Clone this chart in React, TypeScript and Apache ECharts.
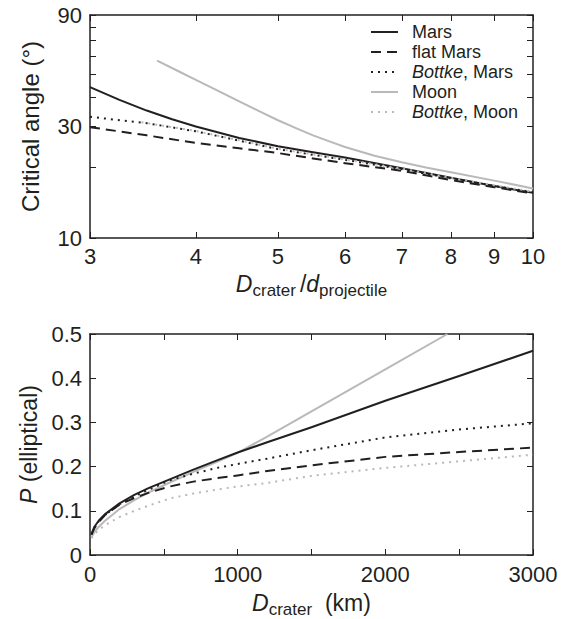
import React, { useEffect, useRef } from "react";
import * as echarts from "echarts";

// ---------- Top panel: critical angle vs D_crater/d_projectile ----------
const marsRatio = [3, 3.25, 3.5, 3.75, 4, 4.5, 5, 5.5, 6, 7, 8, 9, 10];
const marsAngle = [44.2, 39.0, 35.1, 32.2, 30.0, 26.8, 24.7, 23.3, 22.1, 19.9, 18.1, 16.7, 15.6];

const flatMarsRatio = [3, 3.5, 4, 4.5, 5, 5.5, 6, 7, 7.5, 8, 9, 10];
const flatMarsAngle = [29.8, 27.5, 25.5, 24.2, 23.1, 21.9, 20.9, 19.4, 18.5, 17.7, 16.5, 15.5];

const bottkeMarsRatio = [3, 3.5, 4, 4.5, 5, 5.5, 6, 7, 8, 9, 10];
const bottkeMarsAngle = [33.0, 31.0, 28.6, 26.1, 24.0, 22.7, 21.6, 19.7, 18.0, 16.7, 15.7];

const moonRatio = [3.6, 3.8, 4, 4.25, 4.5, 4.75, 5, 5.25, 5.5, 5.75, 6, 6.5, 7, 7.5, 8, 9, 10];
const moonAngle = [57.4, 52.1, 47.5, 42.6, 38.4, 34.9, 31.9, 29.5, 27.5, 25.9, 24.5, 22.5, 21.1, 20.0, 19.1, 17.6, 16.3];

const bottkeMoonRatio = [3.45, 4, 4.5, 5, 5.5, 6, 7, 8, 9, 10];
const bottkeMoonAngle = [31.3, 28.7, 26.2, 24.1, 22.8, 21.7, 19.8, 18.1, 16.8, 15.8];

const topXTicks = [3, 4, 5, 6, 7, 8, 9, 10];
const topYLabels = [10, 30, 90];
const topYTicks = [10, 20, 30, 40, 50, 60, 70, 80, 90];

// ---------- Bottom panel: P(elliptical) vs D_crater ----------
const marsKm = [10, 30, 60, 100, 200, 300, 400, 540, 700, 860, 1000, 1200, 1500, 2000, 2500, 3000];
const marsP = [0.048, 0.064, 0.078, 0.092, 0.117, 0.136, 0.152, 0.171, 0.193, 0.214, 0.232, 0.255, 0.289, 0.349, 0.405, 0.462];

const flatMarsKm = [10, 30, 60, 100, 200, 300, 400, 540, 700, 860, 1000, 1200, 1500, 2000, 2500, 3000];
const flatMarsP = [0.046, 0.061, 0.075, 0.09, 0.114, 0.129, 0.141, 0.155, 0.166, 0.174, 0.18, 0.19, 0.203, 0.222, 0.233, 0.243];

const bottkeMarsKm = [10, 30, 60, 100, 200, 300, 400, 540, 700, 860, 1000, 1200, 1500, 2000, 2500, 3000];
const bottkeMarsP = [0.046, 0.062, 0.077, 0.09, 0.115, 0.133, 0.148, 0.169, 0.184, 0.197, 0.206, 0.218, 0.237, 0.266, 0.284, 0.298];

const moonKm = [10, 30, 60, 100, 200, 300, 400, 540, 700, 860, 1000, 1200, 1500, 2000, 2420];
const moonP = [0.04, 0.052, 0.064, 0.077, 0.104, 0.124, 0.142, 0.164, 0.188, 0.211, 0.231, 0.268, 0.325, 0.42, 0.5];

const bottkeMoonKm = [10, 30, 60, 100, 200, 300, 400, 540, 700, 860, 1000, 1200, 1500, 2000, 2500, 3000];
const bottkeMoonP = [0.038, 0.047, 0.057, 0.067, 0.086, 0.1, 0.112, 0.128, 0.139, 0.148, 0.155, 0.163, 0.179, 0.197, 0.212, 0.227];

const bottomXLabels = [0, 1000, 2000, 3000];
const bottomXTicks = [0, 500, 1000, 1500, 2000, 2500, 3000];

const seriesNames = ["Mars", "flat Mars", "Bottke, Mars", "Moon", "Bottke, Moon"];

const INK = "#231f20";
const GRAY = "#b9b9b9";
const FONT = "'Liberation Sans', Arial, Helvetica, sans-serif";

const pairs = (xs: number[], ys: number[]) => xs.map((x, i) => [x, ys[i]]);

const styles: Record<string, { color: string; type: any }> = {
  Mars: { color: INK, type: "solid" },
  "flat Mars": { color: INK, type: [10, 6] },
  "Bottke, Mars": { color: INK, type: [2, 5] },
  Moon: { color: GRAY, type: "solid" },
  "Bottke, Moon": { color: GRAY, type: [2, 5] },
};

function lineSeries(name: string, data: number[][], xi: number, yi: number) {
  const s = styles[name];
  return {
    type: "line",
    name,
    data,
    xAxisIndex: xi,
    yAxisIndex: yi,
    symbol: "none",
    smooth: false,
    clip: true,
    lineStyle: { color: s.color, width: 2, type: s.type, join: "round" },
    itemStyle: { color: s.color },
    emphasis: { disabled: true },
  };
}

const axisLineStyle = { show: true, lineStyle: { color: INK, width: 1.5 } };
const tickLabel = { color: INK, fontSize: 22, fontFamily: FONT, formatter: (v: number) => String(v) };

export default function App() {
  const ref = useRef<HTMLDivElement>(null);

  useEffect(() => {
    if (!ref.current) return;
    const chart = echarts.init(ref.current, undefined, { renderer: "svg" });

    const option: any = {
      animation: false,
      backgroundColor: "#ffffff",
      textStyle: { fontFamily: FONT },
      grid: [
        { left: 90, top: 15, width: 443, height: 223 },
        { left: 90, top: 334, width: 443, height: 222 },
      ],
      legend: {
        orient: "vertical",
        left: 370,
        top: 22,
        padding: 0,
        itemGap: 0,
        itemWidth: 27,
        itemHeight: 14,
        selectedMode: false,
        data: seriesNames,
        itemStyle: { opacity: 0 },
        formatter: (n: string) => (n.startsWith("Bottke") ? "{i|Bottke}" + n.slice(6) : n),
        textStyle: {
          color: INK,
          fontSize: 18,
          lineHeight: 20,
          fontFamily: FONT,
          padding: [0, 0, 0, 9],
          rich: {
            i: { fontStyle: "italic", fontSize: 18, lineHeight: 20, color: INK, fontFamily: FONT },
          },
        },
      },
      xAxis: [
        {
          gridIndex: 0,
          type: "log",
          logBase: 10,
          min: 3,
          max: 10,
          position: "bottom",
          axisLine: { ...axisLineStyle, onZero: false },
          axisTick: { show: true, inside: true, length: 6, customValues: topXTicks, lineStyle: { color: INK, width: 1 } },
          axisLabel: { ...tickLabel, margin: 7, customValues: topXTicks },
          splitLine: { show: false },
          minorTick: { show: false },
          name: "{i|D}{s|crater}{n|/}{i|d}{s|projectile}",
          nameLocation: "middle",
          nameGap: 31,
          nameTextStyle: {
            color: INK,
            fontSize: 23,
            lineHeight: 30,
            fontFamily: FONT,
            rich: {
              i: { fontStyle: "italic", fontSize: 23, lineHeight: 30, color: INK, fontFamily: FONT },
              n: { fontSize: 23, lineHeight: 30, color: INK, fontFamily: FONT, padding: [0, 0, 0, 4] },
              s: { fontSize: 17, lineHeight: 17, verticalAlign: "bottom", color: INK, fontFamily: FONT },
            },
          },
        },
        {
          gridIndex: 0,
          type: "log",
          logBase: 10,
          min: 3,
          max: 10,
          position: "top",
          axisLine: { ...axisLineStyle, onZero: false },
          axisTick: { show: true, inside: true, length: 6, customValues: topXTicks, lineStyle: { color: INK, width: 1 } },
          axisLabel: { show: false },
          splitLine: { show: false },
        },
        {
          gridIndex: 1,
          type: "value",
          min: 0,
          max: 3000,
          position: "bottom",
          axisLine: { ...axisLineStyle, onZero: false },
          axisTick: { show: true, inside: true, length: 6, customValues: bottomXTicks, lineStyle: { color: INK, width: 1 } },
          axisLabel: { ...tickLabel, margin: 8, customValues: bottomXLabels },
          splitLine: { show: false },
          name: "{i|D}{s|crater}{n|  (km)}",
          nameLocation: "middle",
          nameGap: 33,
          nameTextStyle: {
            color: INK,
            fontSize: 23,
            lineHeight: 30,
            fontFamily: FONT,
            rich: {
              i: { fontStyle: "italic", fontSize: 23, lineHeight: 30, color: INK, fontFamily: FONT },
              n: { fontSize: 23, lineHeight: 30, color: INK, fontFamily: FONT },
              s: { fontSize: 17, lineHeight: 17, verticalAlign: "bottom", color: INK, fontFamily: FONT },
            },
          },
        },
        {
          gridIndex: 1,
          type: "value",
          min: 0,
          max: 3000,
          position: "top",
          axisLine: { ...axisLineStyle, onZero: false },
          axisTick: { show: true, inside: true, length: 6, customValues: bottomXTicks, lineStyle: { color: INK, width: 1 } },
          axisLabel: { show: false },
          splitLine: { show: false },
        },
      ],
      yAxis: [
        {
          gridIndex: 0,
          type: "log",
          logBase: 10,
          min: 10,
          max: 90,
          position: "left",
          axisLine: { ...axisLineStyle, onZero: false },
          axisTick: { show: true, inside: true, length: 6, customValues: topYTicks, lineStyle: { color: INK, width: 1 } },
          axisLabel: { ...tickLabel, margin: 8, customValues: topYLabels },
          splitLine: { show: false },
          minorTick: { show: false },
          name: "Critical angle (°)",
          nameLocation: "middle",
          nameGap: 48,
          nameTextStyle: { color: INK, fontSize: 24, fontFamily: FONT },
        },
        {
          gridIndex: 0,
          type: "log",
          logBase: 10,
          min: 10,
          max: 90,
          position: "right",
          axisLine: { ...axisLineStyle, onZero: false },
          axisTick: { show: true, inside: true, length: 6, customValues: topYTicks, lineStyle: { color: INK, width: 1 } },
          axisLabel: { show: false },
          splitLine: { show: false },
        },
        {
          gridIndex: 1,
          type: "value",
          min: 0,
          max: 0.5,
          interval: 0.1,
          position: "left",
          axisLine: { ...axisLineStyle, onZero: false },
          axisTick: { show: true, inside: true, length: 6, lineStyle: { color: INK, width: 1 } },
          axisLabel: { ...tickLabel, margin: 8 },
          splitLine: { show: false },
          name: "{i|P}{n| (elliptical)}",
          nameLocation: "middle",
          nameGap: 48,
          nameTextStyle: {
            color: INK,
            fontSize: 22,
            fontFamily: FONT,
            rich: {
              i: { fontStyle: "italic", fontSize: 23, color: INK, fontFamily: FONT },
              n: { fontSize: 23, color: INK, fontFamily: FONT },
            },
          },
        },
        {
          gridIndex: 1,
          type: "value",
          min: 0,
          max: 0.5,
          interval: 0.1,
          position: "right",
          axisLine: { ...axisLineStyle, onZero: false },
          axisTick: { show: true, inside: true, length: 6, lineStyle: { color: INK, width: 1 } },
          axisLabel: { show: false },
          splitLine: { show: false },
        },
      ],
      series: [
        lineSeries("Mars", pairs(marsRatio, marsAngle), 0, 0),
        lineSeries("flat Mars", pairs(flatMarsRatio, flatMarsAngle), 0, 0),
        lineSeries("Bottke, Mars", pairs(bottkeMarsRatio, bottkeMarsAngle), 0, 0),
        lineSeries("Moon", pairs(moonRatio, moonAngle), 0, 0),
        lineSeries("Bottke, Moon", pairs(bottkeMoonRatio, bottkeMoonAngle), 0, 0),
        lineSeries("Moon", pairs(moonKm, moonP), 2, 2),
        lineSeries("Bottke, Moon", pairs(bottkeMoonKm, bottkeMoonP), 2, 2),
        lineSeries("flat Mars", pairs(flatMarsKm, flatMarsP), 2, 2),
        lineSeries("Bottke, Mars", pairs(bottkeMarsKm, bottkeMarsP), 2, 2),
        lineSeries("Mars", pairs(marsKm, marsP), 2, 2),
      ],
    };

    chart.setOption(option);
    return () => chart.dispose();
  }, []);

  return (
    <div
      ref={ref}
      style={{ position: "absolute", left: 0, top: 0, width: 574, height: 619, background: "#fff" }}
    />
  );
}
